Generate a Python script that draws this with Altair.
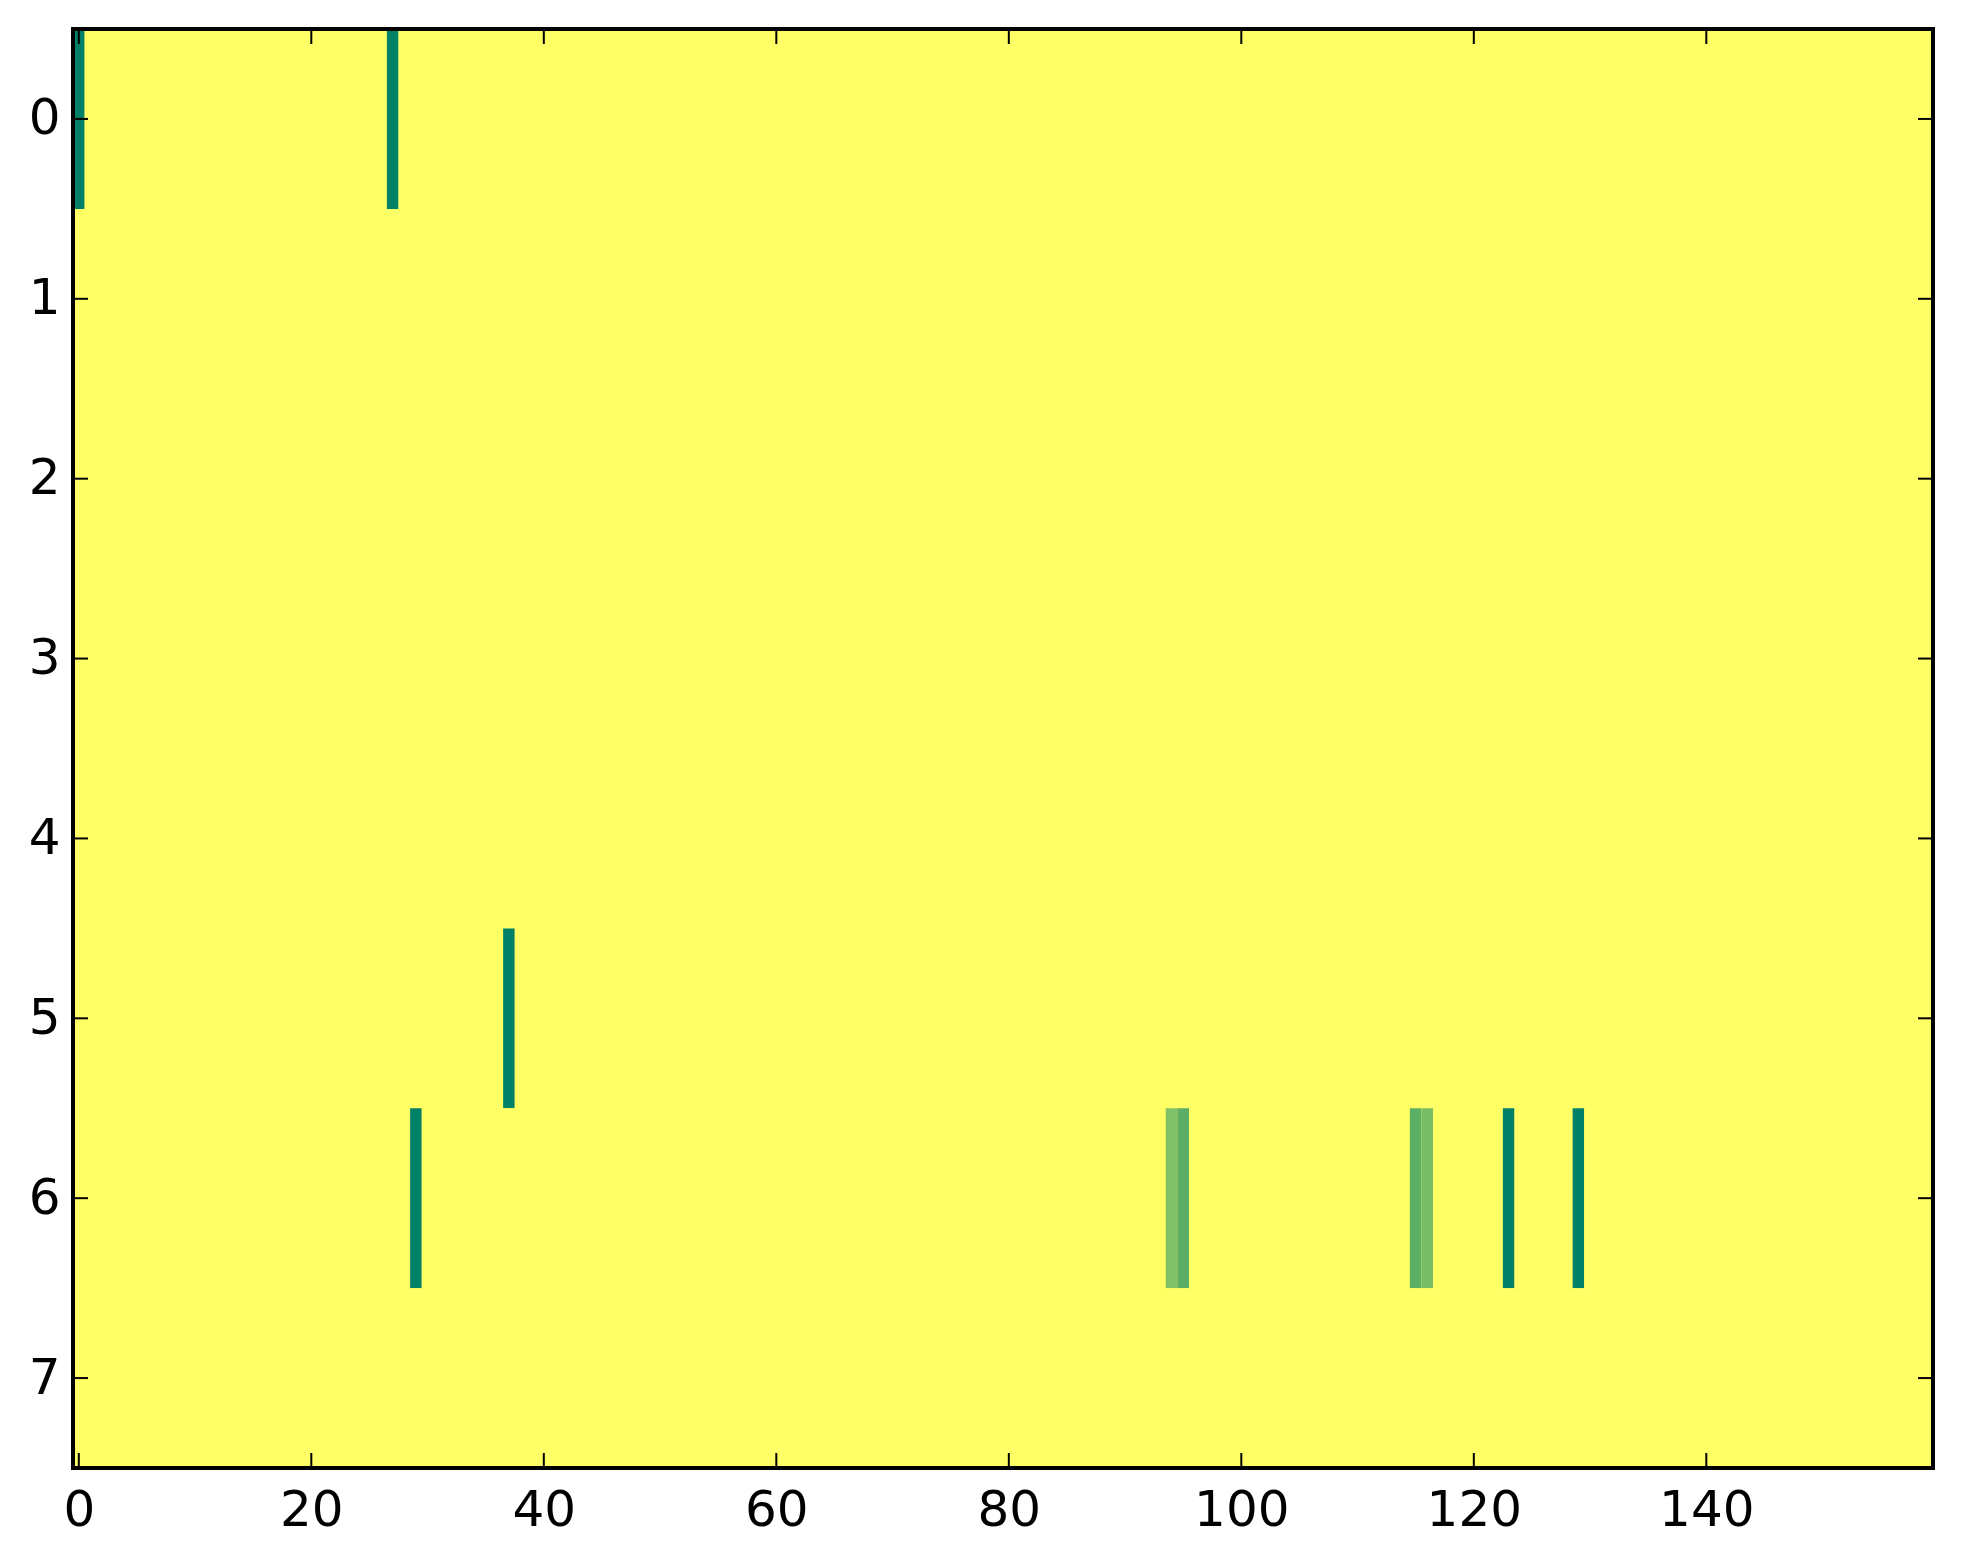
import altair as alt
import pandas as pd

# ---- data ----
n_rows = 8
n_cols = 160
base_value = 1.0
cell_rows = [0, 0, 5, 6, 6, 6, 6, 6, 6, 6]
cell_cols = [0, 27, 37, 29, 94, 95, 115, 116, 123, 129]
cell_values = [0.0, 0.0, 0.0, 0.0, 0.50, 0.36, 0.37, 0.47, 0.0, 0.0]

x_ticks = [0, 20, 40, 60, 80, 100, 120, 140]
y_ticks = [0, 1, 2, 3, 4, 5, 6, 7]
x_limits = [-0.5, 159.5]
y_limits = [-0.5, 7.5]

# colormap ends (matplotlib "summer")
cmap = ["#008066", "#ffff66"]

special = {(r, c): v for r, c, v in zip(cell_rows, cell_cols, cell_values)}
grid = pd.DataFrame(
    [{"row": r, "col": c, "value": special.get((r, c), base_value)}
     for r in range(n_rows) for c in range(n_cols)]
)

W, H = 1860, 1439
TICK = 15
FONT = "DejaVu Sans"

xs = alt.Scale(domain=x_limits, nice=False, zero=False)
ys = alt.Scale(domain=y_limits, nice=False, zero=False, reverse=True)

x_axis = alt.Axis(values=x_ticks, format="d", tickSize=0, domain=False, grid=False,
                  title=None, labelFontSize=50, labelFont=FONT, labelColor="black",
                  labelPadding=17, labelFlush=False)
y_axis = alt.Axis(values=y_ticks, format="d", tickSize=0, domain=False, grid=False,
                  title=None, labelFontSize=50, labelFont=FONT, labelColor="black",
                  labelPadding=13, labelFlush=False)

cells = alt.Chart(grid).transform_calculate(
    x0="datum.col - 0.5", x1="datum.col + 0.5",
    y0="datum.row - 0.5", y1="datum.row + 0.5",
).mark_rect().encode(
    x=alt.X("x0:Q", scale=xs, axis=x_axis),
    x2="x1:Q",
    y=alt.Y("y0:Q", scale=ys, axis=y_axis),
    y2="y1:Q",
    color=alt.Color("value:Q",
                    scale=alt.Scale(domain=[0, 1], range=cmap, interpolate="rgb"),
                    legend=None),
)

xt = pd.DataFrame({"t": x_ticks})
yt = pd.DataFrame({"t": y_ticks})

tick_style = dict(color="black", strokeWidth=2)

xt_bottom = alt.Chart(xt).mark_rule(**tick_style).encode(
    x=alt.X("t:Q", scale=xs, axis=x_axis), y=alt.value(H - TICK), y2=alt.value(H))
xt_top = alt.Chart(xt).mark_rule(**tick_style).encode(
    x=alt.X("t:Q", scale=xs, axis=x_axis), y=alt.value(0), y2=alt.value(TICK))
yt_left = alt.Chart(yt).mark_rule(**tick_style).encode(
    y=alt.Y("t:Q", scale=ys, axis=y_axis), x=alt.value(0), x2=alt.value(TICK))
yt_right = alt.Chart(yt).mark_rule(**tick_style).encode(
    y=alt.Y("t:Q", scale=ys, axis=y_axis), x=alt.value(W - TICK), x2=alt.value(W))

frame_x = alt.Chart(pd.DataFrame({"lim": x_limits})).mark_rule(
    color="black", strokeWidth=4, strokeCap="square").encode(
    x=alt.X("lim:Q", scale=xs, axis=x_axis))
frame_y = alt.Chart(pd.DataFrame({"lim": y_limits})).mark_rule(
    color="black", strokeWidth=4, strokeCap="square").encode(
    y=alt.Y("lim:Q", scale=ys, axis=y_axis))

chart = alt.layer(
    cells, xt_bottom, xt_top, yt_left, yt_right, frame_x, frame_y
).properties(
    width=W, height=H,
    autosize=alt.AutoSizeParams(type="none"),
    padding={"left": 65, "top": 21, "right": 22, "bottom": 88},
    background="white",
).configure_view(stroke=None, fill="#ffff66")

chart.save("out.html", embed_options={"renderer": "svg", "actions": False})
